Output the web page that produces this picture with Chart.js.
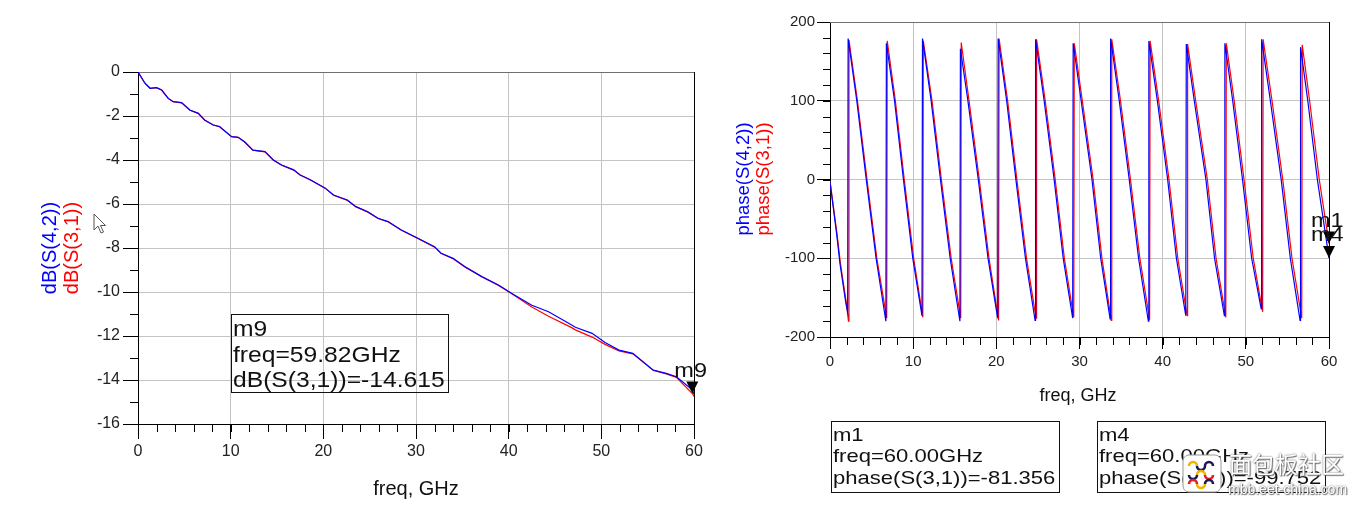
<!DOCTYPE html>
<html>
<head>
<meta charset="utf-8">
<script src="https://cdn.jsdelivr.net/npm/chart.js@4.4.1/dist/chart.umd.min.js"></script>
<style>
  body { margin:0; width:1360px; height:505px; background:#fff; position:relative; overflow:hidden;
         font-family:"Liberation Sans", Arial, sans-serif; }
  canvas { position:absolute; top:0; }
  .rot { position:absolute; transform:translate(-50%,-50%) rotate(-90deg); white-space:nowrap; line-height:1; }
  .xt { position:absolute; transform:translateX(-50%); white-space:nowrap; line-height:1; color:#111; }
  .box { position:absolute; box-sizing:border-box; border:1.5px solid #111; }
  .mtxt { position:absolute; white-space:pre; color:#111; transform-origin:0 0; }
  .wm { position:absolute; white-space:nowrap; color:#fff; line-height:1;
        text-shadow:0 0 2px #555, 1px 1px 1px #777; }
</style>
</head>
<body>

<canvas id="dbChart" width="720" height="505" style="left:0"></canvas>
<canvas id="phaseChart" width="640" height="505" style="left:720px"></canvas>

<!-- axis titles -->
<div class="rot" style="left:49px;top:248px;font-size:20px;color:#0000ff">dB(S(4,2))</div>
<div class="rot" style="left:71px;top:248px;font-size:20px;color:#ff0000">dB(S(3,1))</div>
<div class="rot" style="left:743px;top:179px;font-size:18.5px;color:#0000ff">phase(S(4,2))</div>
<div class="rot" style="left:763px;top:179px;font-size:18.5px;color:#ff0000">phase(S(3,1))</div>
<div class="xt" style="left:416px;top:478px;font-size:20px">freq, GHz</div>
<div class="xt" style="left:1078px;top:386px;font-size:18px">freq, GHz</div>

<!-- marker readouts -->
<div class="box" style="left:231px;top:314px;width:218px;height:79px"></div>
<div class="mtxt" style="left:233px;top:316px;font-size:22px;line-height:25.5px;transform:scaleX(1.12)">m9
freq=59.82GHz
dB(S(3,1))=-14.615</div>
<div class="box" style="left:831px;top:421px;width:229px;height:72px"></div>
<div class="mtxt" style="left:833px;top:424px;font-size:19px;line-height:21.3px;transform:scaleX(1.16)">m1
freq=60.00GHz
phase(S(3,1))=-81.356</div>
<div class="box" style="left:1097px;top:421px;width:229px;height:72px"></div>
<div class="mtxt" style="left:1099px;top:424px;font-size:19px;line-height:21.3px;transform:scaleX(1.16)">m4
freq=60.00GHz
phase(S(4,2))=-99.752</div>

<!-- mouse pointer -->
<svg style="position:absolute;left:93px;top:213px" width="16" height="22">
  <polygon points="1,1 1,17 5,13 8,20 10.5,19 7.5,12.5 12.5,12.5" fill="#fff" stroke="#555" stroke-width="1"/>
</svg>

<!-- watermark -->
<svg style="position:absolute;left:1182px;top:454px" width="41" height="40">
  <rect x="1" y="1" width="38" height="37" rx="6" fill="#fff" stroke="#999"/>
  <g fill="none" stroke-width="2.6">
    <path d="M7 12 a4 4 0 0 1 8 0" stroke="#f2b400"/><path d="M15 12 a4 4 0 0 0 8 0" stroke="#1b1b5a"/><path d="M23 12 a4 4 0 0 1 8 0" stroke="#1b1b5a"/>
    <path d="M7 21 a4 4 0 0 0 8 0" stroke="#1b1b5a"/><path d="M15 21 a4 4 0 0 1 8 0" stroke="#f2b400"/><path d="M23 21 a4 4 0 0 0 8 0" stroke="#e0202a"/>
    <path d="M7 30 a4 4 0 0 1 8 0" stroke="#e0202a"/><path d="M15 30 a4 4 0 0 0 8 0" stroke="#f2b400"/><path d="M23 30 a4 4 0 0 1 8 0" stroke="#1b1b5a"/>
  </g>
</svg>
<div class="wm" style="left:1229px;top:452px;font-size:23px;font-family:'Noto Sans CJK SC'">面包板社区</div>
<div class="wm" style="left:1228px;top:482px;font-size:14px">mbb.eet-china.com</div>

<script>
// ---- dB(S) traces, left plot ----
const dbFreq = [0, 0.75, 1.3, 2.0, 2.55, 3.27, 3.8, 4.7, 5.6, 6.5, 7.2, 8.1, 8.8, 10.1, 10.8, 11.5, 12.4, 13.7,
  14.6, 15.5, 16.8, 17.5, 18.6, 20.2, 21.1, 22.6, 23.5, 24.8, 25.9, 27.0, 28.4, 28.8, 30.2, 32.0, 32.7, 34.0,
  35.3, 37.1, 38.9, 40.3, 42.5, 44.3, 46.8, 47.2, 49.0, 50.4, 51.9, 53.4, 55.6, 57.0, 58.1, 59.82, 60];
const db42 = [0, -0.51, -0.74, -0.71, -0.82, -1.2, -1.35, -1.39, -1.73, -1.88, -2.18, -2.41, -2.48, -2.94, -2.97,
  -3.17, -3.55, -3.62, -4.0, -4.23, -4.45, -4.68, -4.9, -5.28, -5.59, -5.82, -6.12, -6.35, -6.65, -6.8, -7.18,
  -7.26, -7.56, -7.94, -8.24, -8.47, -8.85, -9.3, -9.68, -10.06, -10.6, -10.9, -11.5, -11.6, -11.88, -12.3,
  -12.64, -12.79, -13.55, -13.7, -13.85, -14.45, -14.65];
const db31 = [0, -0.51, -0.74, -0.71, -0.82, -1.21, -1.35, -1.4, -1.74, -1.88, -2.19, -2.4, -2.49, -2.94, -2.97,
  -3.18, -3.55, -3.63, -4.0, -4.24, -4.46, -4.68, -4.91, -5.28, -5.6, -5.84, -6.12, -6.37, -6.66, -6.82, -7.18,
  -7.27, -7.57, -7.96, -8.24, -8.49, -8.87, -9.31, -9.7, -10.07, -10.68, -11.1, -11.62, -11.72, -12.05, -12.38,
  -12.68, -12.81, -13.56, -13.72, -13.88, -14.615, -14.75];

// ---- phase(S) traces, right plot ----
const phase42Freq = [0, 0.80, 1.20, 1.92, 2.12,
  2.18, 3.22, 4.36, 5.54, 6.72,   6.78, 7.76, 8.83, 9.95, 11.06,
  11.12, 12.16, 13.28, 14.45, 15.62,   15.68, 16.58, 17.83, 19.00, 20.16,
  20.22, 21.24, 22.35, 23.50, 24.66,   24.72, 25.75, 26.95, 28.04, 29.18,
  29.24, 30.20, 31.50, 32.55, 33.68,   33.74, 34.78, 35.98, 37.10, 38.28,
  38.34, 39.36, 40.60, 41.65, 42.78,   42.84, 43.80, 45.20, 46.24, 47.42,
  47.48, 48.42, 49.60, 50.70, 51.84,   51.90, 52.95, 54.25, 55.35, 56.52,
  56.58, 57.45, 58.60, 60.00];
const phase42 = [-3, -69, -107, -158, -168,
  179, 100, 0, -100, -180,   173, 100, 0, -100, -173,
  179, 100, 0, -100, -180,   166, 100, 0, -100, -176,
  179, 100, 0, -100, -179,   178, 100, 0, -100, -176,
  173, 100, 0, -100, -177,   179, 100, 0, -100, -180,
  176, 100, 0, -100, -173,   172, 100, 0, -100, -173,
  173, 100, 0, -100, -164,   178, 100, 0, -100, -179,
  168, 100, 0, -99.752];
const phase31Freq = [0, 0.84, 1.26, 1.98, 2.22,
  2.28, 3.30, 4.45, 5.63, 6.82,   6.88, 7.86, 8.93, 10.06, 11.16,
  11.22, 12.27, 13.39, 14.57, 15.72,   15.78, 16.72, 17.95, 19.12, 20.27,
  20.33, 21.36, 22.47, 23.63, 24.78,   24.84, 25.88, 27.08, 28.18, 29.31,
  29.37, 30.34, 31.64, 32.70, 33.82,   33.88, 34.93, 36.13, 37.26, 38.43,
  38.49, 39.52, 40.76, 41.82, 42.94,   43.00, 43.97, 45.37, 46.42, 47.59,
  47.65, 48.60, 49.78, 50.89, 52.02,   52.08, 53.15, 54.44, 55.55, 56.72,
  56.78, 57.67, 58.83, 60.00];
const phase31 = [-2, -69, -107, -158, -180,
  177, 100, 0, -100, -176,   176, 100, 0, -100, -175,
  176, 100, 0, -100, -176,   174, 100, 0, -100, -179,
  179, 100, 0, -100, -176,   178, 100, 0, -100, -175,
  173, 100, 0, -100, -179,   178, 100, 0, -100, -178,
  176, 100, 0, -100, -173,   172, 100, 0, -100, -175,
  173, 100, 0, -100, -168,   178, 100, 0, -100, -176,
  171, 100, 0, -81.356];

// markers
const dbMarkers = [{ name: 'm9', freq: 59.82, val: -14.615 }];
const phaseMarkers = [{ name: 'm1', freq: 60, val: -81.356 }, { name: 'm4', freq: 60, val: -99.752 }];

const FONT = '"Liberation Sans", Arial, sans-serif';
const pts = (xs, ys) => xs.map((x, i) => ({ x: x, y: ys[i] }));

// frame, minor ticks and marker triangles in the ADS style
const adsDeco = {
    id: 'adsDeco',
    beforeDatasetsDraw(chart, args, o) {
        const a = chart.chartArea, c = chart.ctx;
        c.save();
        c.lineWidth = 1;
        c.strokeStyle = '#707070';
        c.beginPath(); c.moveTo(a.left, a.top + 0.5); c.lineTo(a.right, a.top + 0.5); c.stroke();
        c.strokeStyle = '#000';
        c.beginPath(); c.moveTo(a.right + 0.5, a.top); c.lineTo(a.right + 0.5, a.bottom); c.stroke();
        c.restore();
    },
    afterDatasetsDraw(chart, args, o) {
        const a = chart.chartArea, c = chart.ctx;
        const xs = chart.scales.x, ys = chart.scales.y;
        c.save();
        c.strokeStyle = '#000';
        c.lineWidth = 1;
        c.beginPath();
        for (let v = xs.min; v <= xs.max + 1e-9; v += o.xMinor) {
            const px = Math.round(xs.getPixelForValue(v)) + 0.5;
            c.moveTo(px, a.bottom); c.lineTo(px, a.bottom + o.xMinorLen);
        }
        for (let v = ys.min; v <= ys.max + 1e-9; v += o.yMinor) {
            const py = Math.round(ys.getPixelForValue(v)) + 0.5;
            c.moveTo(a.left - o.yMinorLen, py); c.lineTo(a.left, py);
        }
        c.stroke();

        (o.markers || []).forEach(m => {
            const px = xs.getPixelForValue(m.freq), py = ys.getPixelForValue(m.val);
            c.fillStyle = '#000';
            c.beginPath();
            c.moveTo(px, py); c.lineTo(px - 6, py - 12); c.lineTo(px + 6, py - 12); c.closePath();
            c.fill();
            c.save();
            c.translate(px - 18, py - 17);
            c.scale(1.12, 1);
            c.font = '21px ' + FONT;
            c.fillStyle = '#111';
            c.textBaseline = 'alphabetic';
            c.fillText(m.name, 0, 0);
            c.restore();
        });
        c.restore();
    }
};

function axis(min, max, step, tickLen, pad, size, fit) {
    return {
        type: 'linear', min: min, max: max,
        ticks: { stepSize: step, color: '#222', padding: pad, maxRotation: 0, font: { family: FONT, size: size } },
        grid: { color: '#c4c4c4', lineWidth: 1, tickLength: tickLen, tickColor: '#000' },
        border: { color: '#000', width: 1 },
        afterFit: fit
    };
}

function lineSet(label, data, color) {
    return { label: label, data: data, borderColor: color, borderWidth: 1.2, pointRadius: 0, tension: 0, fill: false };
}

new Chart(document.getElementById('dbChart'), {
    type: 'line',
    data: {
        datasets: [
            lineSet('dB(S(4,2))', pts(dbFreq, db42), '#0000ff'),
            lineSet('dB(S(3,1))', pts(dbFreq, db31), '#ff0000')
        ]
    },
    options: {
        responsive: false, animation: false, devicePixelRatio: 1,
        layout: { padding: { top: 72, right: 26, left: 0, bottom: 0 } },
        plugins: {
            legend: { display: false }, tooltip: { enabled: false },
            adsDeco: { xMinor: 2, xMinorLen: 8, yMinor: 1, yMinorLen: 8, markers: dbMarkers }
        },
        scales: {
            x: axis(0, 60, 10, 15, 3, 16, s => { s.height = 81; }),
            y: axis(-16, 0, 2, 15, 3, 16, s => { s.width = 138; })
        }
    },
    plugins: [adsDeco]
});

new Chart(document.getElementById('phaseChart'), {
    type: 'line',
    data: {
        datasets: [
            lineSet('phase(S(4,2))', pts(phase42Freq, phase42), '#0000ff'),
            lineSet('phase(S(3,1))', pts(phase31Freq, phase31), '#ff0000')
        ]
    },
    options: {
        responsive: false, animation: false, devicePixelRatio: 1,
        layout: { padding: { top: 22, right: 31, left: 0, bottom: 0 } },
        plugins: {
            legend: { display: false }, tooltip: { enabled: false },
            adsDeco: { xMinor: 2, xMinorLen: 8, yMinor: 20, yMinorLen: 7, markers: phaseMarkers }
        },
        scales: {
            x: axis(0, 60, 10, 12, 4, 15, s => { s.height = 168; }),
            y: axis(-200, 200, 100, 13, 2, 15, s => { s.width = 110; })
        }
    },
    plugins: [adsDeco]
});
</script>
</body>
</html>
